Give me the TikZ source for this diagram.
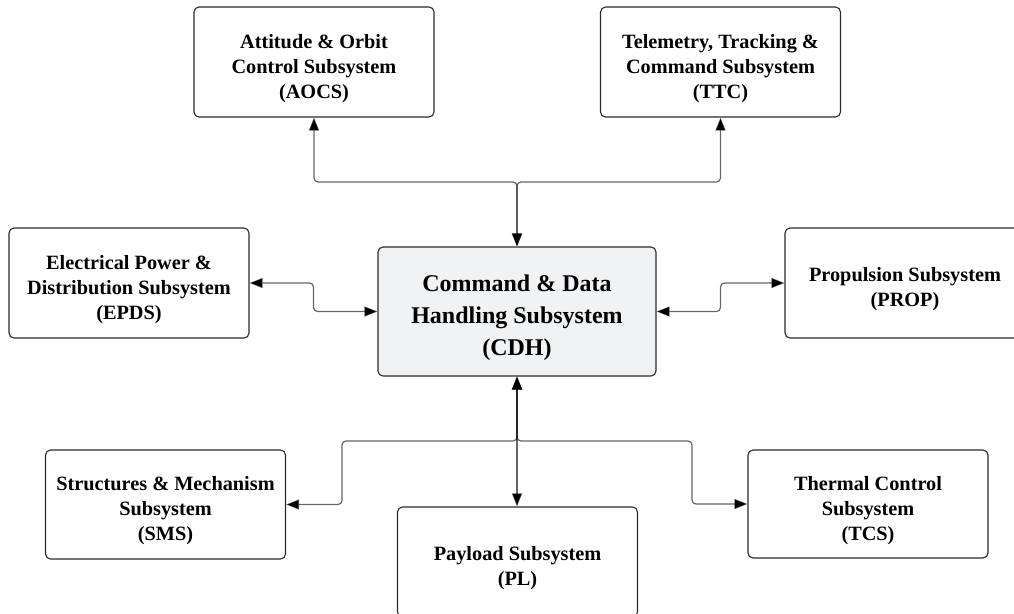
\documentclass[tikz,border=0pt]{standalone}
\usepackage{fontspec}
\setmainfont{Liberation Serif}
\usetikzlibrary{arrows.meta,calc}

\definecolor{boxline}{HTML}{2B2B2B}
\definecolor{corefill}{HTML}{F1F2F4}

% centred multi-line label, set a little below the geometric middle
\newcommand{\boxtext}[1]{\raisebox{-6pt}[\height][\depth]{\begin{tabular}{@{}c@{}}#1\end{tabular}}}

\tikzset{
  subsys/.style={draw=boxline, line width=1.1pt, rounded corners=5pt, fill=white,
    minimum width=240pt, minimum height=110pt, inner sep=0pt,
    font=\fontsize{20.3}{25}\selectfont\bfseries},
  core/.style={subsys, fill=corefill, minimum width=278pt, minimum height=129pt,
    font=\fontsize{24}{32}\selectfont\bfseries},
  link/.style={draw=black, draw opacity=0.6, line width=1.2pt, rounded corners=4pt,
    {Triangle[length=13pt,width=10pt]}-{Triangle[length=13pt,width=10pt]}}
}

\begin{document}
\begin{tikzpicture}[x=1pt, y=-1pt]
  \useasboundingbox (0,0) rectangle (1014,613);
  \clip (0,0) rectangle (1014,613);

  % central data-handling unit
  \node[core] (cdh) at (517,311.5) {\boxtext{Command \& Data\\Handling Subsystem\\(CDH)}};

  % surrounding subsystems
  \node[subsys] (aocs) at (314,62)   {\boxtext{Attitude \& Orbit\\Control Subsystem\\(AOCS)}};
  \node[subsys] (ttc)  at (720.5,62) {\boxtext{Telemetry, Tracking \&\\Command Subsystem\\(TTC)}};
  \node[subsys] (epds) at (129,283)  {\boxtext{Electrical Power \&\\Distribution Subsystem\\(EPDS)}};
  \node[subsys] (prop) at (905,283)  {\boxtext{Propulsion Subsystem\\(PROP)}};
  \node[subsys, minimum height=109pt] (sms) at (165.5,504.5) {\boxtext{Structures \& Mechanism\\Subsystem\\(SMS)}};
  \node[subsys] (pl)   at (517.5,562) {\boxtext{Payload Subsystem\\(PL)}};
  \node[subsys, minimum height=108pt] (tcs) at (868,504) {\boxtext{Thermal Control\\Subsystem\\(TCS)}};

  % bus junctions above and below the core
  \coordinate (jt) at (517,182);
  \coordinate (jb) at (517,441);
  \coordinate (jl) at (342,441);
  \coordinate (jr) at (692,441);

  % upper links
  \draw[link] (cdh.north) -- (jt) -| (aocs.south);
  \draw[link] (cdh.north) -- (jt) -| (ttc.south);

  % side links
  \draw[link] (epds.east) -| ($(epds.east)!0.5!(cdh.west)$) |- (cdh.west);
  \draw[link] (cdh.east) -| ($(cdh.east)!0.5!(prop.west)$) |- (prop.west);

  % lower links
  \draw[link] (cdh.south) -- (jb) -- (jl) |- (sms.east);
  \draw[link] (cdh.south) -- (cdh.south |- pl.north);
  \draw[link] (cdh.south) -- (jb) -- (jr) |- (tcs.west);
\end{tikzpicture}
\end{document}
